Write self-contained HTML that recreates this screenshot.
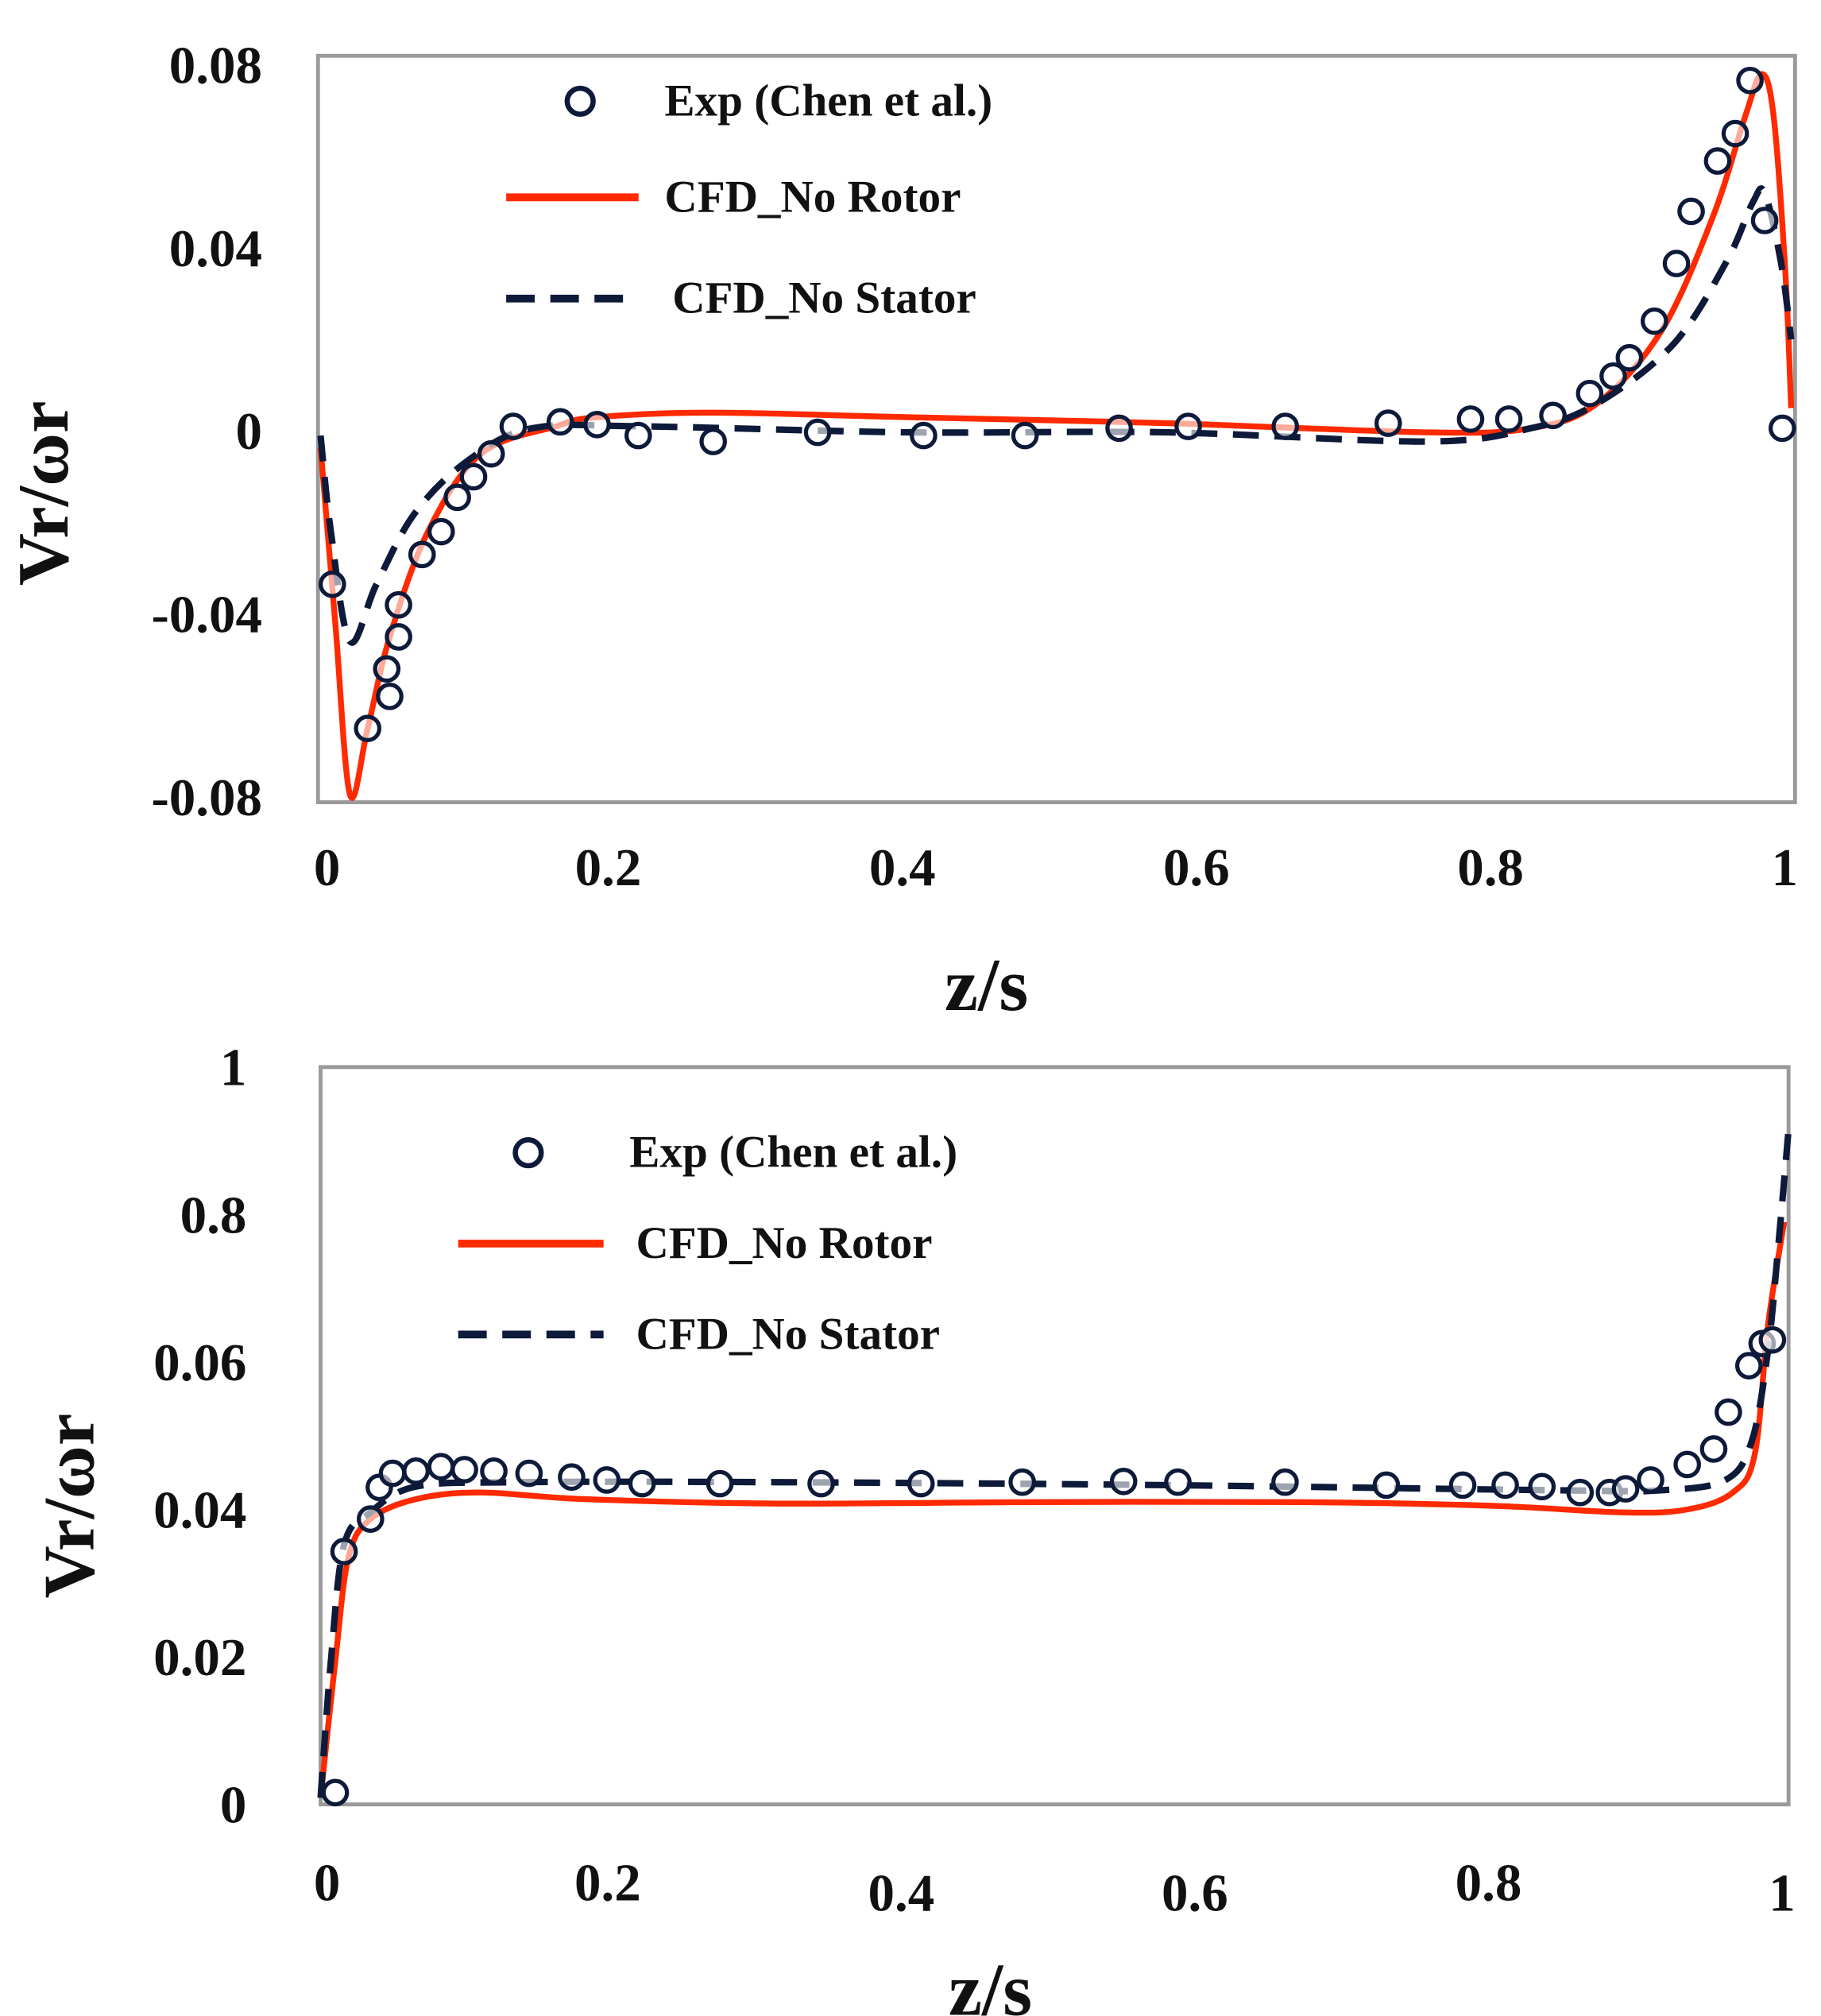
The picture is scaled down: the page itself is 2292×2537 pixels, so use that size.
<!DOCTYPE html>
<html><head><meta charset="utf-8"><style>
html,body{margin:0;padding:0;background:#fff;}
svg{display:block;}
text{font-family:"Liberation Serif",serif;font-weight:bold;fill:#111;}
</style></head><body>
<svg id="fig" width="2292" height="2537" viewBox="0 0 1403 1553" preserveAspectRatio="none" xmlns="http://www.w3.org/2000/svg"></svg>
<script>
// ---- Top chart data ----
const topExpZ=[.008,.032,.045,.047,.053,.053,.069,.082,.093,.104,.116,.131,.163,.188,.216,.267,.338,.41,.479,.543,.59,.656,.726,.782,.808,.838,.863,.879,.89,.907,.922,.932,.95,.962,.972,.982,.994];
const topExpV=[-.0335,-.065,-.052,-.058,-.038,-.045,-.027,-.022,-.0145,-.010,-.005,.001,.002,.0014,-.001,-.0023,-.0003,-.001,-.001,.0006,.001,.001,.0017,.0026,.0026,.0034,.0082,.012,.016,.024,.0366,.048,.059,.065,.0766,.046,.0006];
const topRotorZ=[0,.01,.02,.032,.047,.073,.109,.16,.188,.267,.4,.576,.753,.823,.868,.912,.947,.969,.98,.988,.996,1.0];
const topRotorV=[-.0037,-.042,-.0795,-.065,-.045,-.022,-.005,.001,.003,.004,.003,.0017,-.0003,.0006,.006,.022,.047,.069,.078,.069,.035,.005];
const topStatorZ=[0,.007,.02,.038,.064,.1,.144,.22,.4,.576,.753,.823,.868,.92,.956,.974,.982,.993,1.0];
const topStatorV=[-.001,-.022,-.046,-.0335,-.018,-.0065,.0006,.001,-.0003,-.0003,-.0023,.0006,.006,.019,.037,.05,.052,.037,.02];
const topYTicks=[0.08,0.04,0,-0.04,-0.08];
const topYLabels=["0.08","0.04","0","-0.04","-0.08"];
// ---- Bottom chart data ----
const botExpZ=[.01,.016,.034,.04,.049,.065,.082,.098,.118,.142,.171,.195,.219,.272,.341,.409,.478,.547,.584,.657,.726,.778,.807,.832,.858,.878,.889,.906,.931,.949,.959,.973,.982,.989];
const botExpV=[.0016,.0343,.0387,.043,.0449,.0452,.0458,.0454,.0452,.0449,.0444,.044,.0435,.0435,.0435,.0435,.0437,.0438,.0437,.0437,.0433,.0433,.0433,.0431,.0423,.0423,.0428,.044,.0461,.0482,.0532,.0595,.0625,.063];
const botRotorZ=[0,.01,.019,.034,.065,.109,.18,.312,.489,.666,.798,.887,.931,.962,.977,.986,.997];
const botRotorV=[.0009,.0194,.0335,.0387,.0414,.0423,.0414,.0408,.041,.041,.0405,.0396,.04,.0423,.0475,.065,.079];
const botStatorZ=[0,.007,.016,.034,.065,.135,.312,.577,.843,.913,.957,.975,.986,.993,1.0];
const botStatorV=[.0009,.0194,.0352,.0396,.0431,.0437,.0437,.0433,.0426,.0426,.044,.0493,.0616,.0757,.0915];
const botYTicks=[0.1,0.08,0.06,0.04,0.02,0];
const botYLabels=["1","0.8","0.06","0.04","0.02","0"];
const xTicks=[0,0.2,0.4,0.6,0.8,1];
const xLabels=["0","0.2","0.4","0.6","0.8","1"];

const NS="http://www.w3.org/2000/svg";
const svg=document.getElementById('fig');
function mk(tag,attrs,parent){const e=document.createElementNS(NS,tag);for(const k in attrs)e.setAttribute(k,attrs[k]);(parent||svg).appendChild(e);return e;}
function pathD(zs,vs,X,Y){
  const p=zs.map((z,i)=>[X(z),Y(vs[i])]);
  let d='M'+p[0][0]+','+p[0][1];
  for(let i=0;i<p.length-1;i++){
    const p0=p[Math.max(0,i-1)],p1=p[i],p2=p[i+1],p3=p[Math.min(p.length-1,i+2)];
    const c1=[p1[0]+(p2[0]-p0[0])/6,p1[1]+(p2[1]-p0[1])/6];
    const c2=[p2[0]-(p3[0]-p1[0])/6,p2[1]-(p3[1]-p1[1])/6];
    d+=' C'+c1[0]+','+c1[1]+' '+c2[0]+','+c2[1]+' '+p2[0]+','+p2[1];
  }
  return d;
}
function chart(cfg){
  const g=mk('g',{});
  
  
  const X=z=>cfg.x0+z*(cfg.x1-cfg.x0);
  const Y=v=>cfg.yZero-(v-cfg.vZero)*cfg.yScale;
  const fr=mk('rect',{x:cfg.fx0,y:cfg.fy0,width:cfg.fx1-cfg.fx0,height:cfg.fy1-cfg.fy0,fill:'none',stroke:'#9a9a9a','stroke-width':3},g);
  
  
  cfg.yTicks.forEach((t,i)=>{
    const tx=mk('text',{x:cfg.yLabX,y:Y(t)+14,'text-anchor':'end','font-size':41},g);
    tx.textContent=cfg.yLabels[i];
    
    
  });
  xTicks.forEach((t,i)=>{
    const tx=mk('text',{x:X(t)+(i==0?5:-5),y:cfg.xLabY[i],'text-anchor':'middle','font-size':41},g);
    tx.textContent=xLabels[i];
    
    
  });
  const xt=mk('text',{x:cfg.xTitleX,y:cfg.xTitleY,'text-anchor':'middle','font-size':58},g);
  xt.textContent='z/s';
  
  
  const yt=mk('text',{x:0,y:0,'text-anchor':'middle','font-size':56,transform:'translate('+cfg.yTitleX+','+cfg.yTitleY+') rotate(-90)'},g);
  yt.textContent='Vr/ωr';
  
  
  const rl=mk('path',{d:pathD(cfg.rz,cfg.rv,X,Y),fill:'none',stroke:'#ff2a00','stroke-width':4.5,'stroke-linejoin':'round'},g);
  
  
  const sl=mk('path',{d:pathD(cfg.sz,cfg.sv,X,Y),fill:'none',stroke:'#0d1a3a','stroke-width':5,'stroke-dasharray':'20 12'},g);
  
  
  cfg.ez.forEach((z,i)=>{
    const c=mk('circle',{cx:X(z),cy:Y(cfg.ev[i]),r:9,fill:'#fff','fill-opacity':0.6,stroke:'#0d1a3a','stroke-width':3.2},g);
    
    
  });
  const L=cfg.leg;
  const lc=mk('circle',{cx:L.cx,cy:L.y1,r:10,fill:'#fff',stroke:'#0d1a3a','stroke-width':4},g);
  
  
  const ll=mk('line',{x1:L.lx0,x2:L.lx1,y1:L.y2,y2:L.y2,stroke:'#ff2a00','stroke-width':6},g);
  
  
  const ld=mk('line',{x1:L.lx0,x2:L.lx1,y1:L.y3,y2:L.y3,stroke:'#0d1a3a','stroke-width':6,'stroke-dasharray':'22 12'},g);
  
  
  [['Exp (Chen et al.)',L.t1x,L.y1],['CFD_No Rotor',L.t2x,L.y2],['CFD_No Stator',L.t3x,L.y3]].forEach(a=>{
    const t=mk('text',{x:a[1],y:a[2]+11,'font-size':35},g);
    t.textContent=a[0];
    
    
  });
}
chart({name:'top-chart',x0:247,x1:1380,vZero:0,yZero:332,yScale:3525,fx0:245,fy0:43,fx1:1383,fy1:618,
  yTicks:topYTicks,yLabels:topYLabels,yLabX:202,xLabY:[682,682,682,682,682,682],xTitleX:760,xTitleY:778,yTitleX:52,yTitleY:380,
  rz:topRotorZ,rv:topRotorV,sz:topStatorZ,sv:topStatorV,ez:topExpZ,ev:topExpV,
  leg:{cx:447,y1:78,y2:152,y3:230,lx0:390,lx1:492,t1x:512,t2x:512,t3x:518}});
chart({name:'bottom-chart',x0:247,x1:1378,vZero:0,yZero:1390,yScale:5680,fx0:247,fy0:822,fx1:1378,fy1:1390,
  yTicks:botYTicks,yLabels:botYLabels,yLabX:190,xLabY:[1464,1464,1472,1472,1464,1472],xTitleX:763,xTitleY:1552,yTitleX:72,yTitleY:1160,
  rz:botRotorZ,rv:botRotorV,sz:botStatorZ,sv:botStatorV,ez:botExpZ,ev:botExpV,
  leg:{cx:407,y1:888,y2:958,y3:1028,lx0:353,lx1:465,t1x:485,t2x:490,t3x:490}});
</script>
</body></html>
